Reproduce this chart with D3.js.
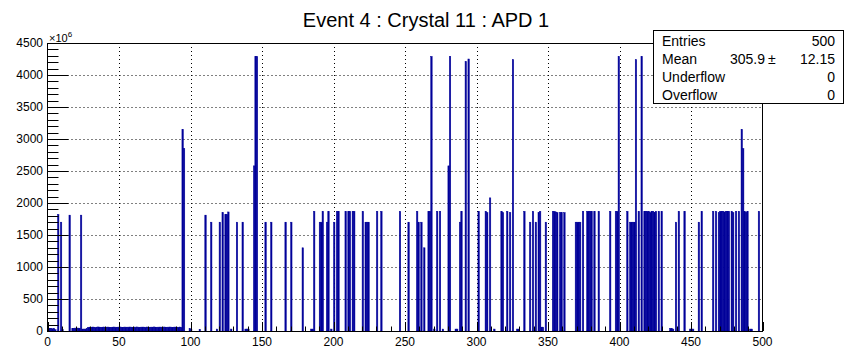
<!DOCTYPE html>
<html>
<head>
<meta charset="utf-8">
<script src="https://cdn.jsdelivr.net/npm/d3@7"></script>
<style>
  body { margin: 0; background: #fff; }
  text { font-family: "Liberation Sans", Arial, sans-serif; white-space: pre; }
</style>
</head>
<body>
<div id="chart"></div>
<script>
// histogram data, 500 bins from 0 to 500 (values in units of 1e6)
var nBins = 500;
var bandStart = 28;
var bandValues = [55,60,58,62,60,57,60,63,60,58, 60,62,59,60,61,58,56,60,62,60,
  58,60,64,60,57,60,61,59,60,62, 60,58,60,60,63,60,57,60,61,60,
  59,62,60,58,60,60,63,60,56,60, 61,60,59,62,60,58,60,62,60,57,
  60,61,60,58,62,55];

var spikeBins = [1,2,3,4,5,7,9,10,15,17,18,19,20,21,22,23,24,25,26,27,
  94,95,99,100,106,110,114,118,120,122,124,125,126,128,132,136,138,139,140,144,145,146,152,156,
  166,170,178,184,185,186,190,191,192,195,196,198,200,202,203,208,210,211,213,214,220,222,223,224,230,233,246,
  252,258,259,261,263,266,267,268,270,272,274,276,280,281,285,286,288,289,292,294,301,306,307,309,312,317,318,321,323,325,328,329,333,
  337,339,341,343,344,345,346,348,353,354,355,356,358,359,361,369,370,371,372,374,377,378,379,380,382,385,393,397,398,399,
  405,407,408,409,410,411,413,415,417,418,419,420,421,422,423,424,425,427,429,435,436,437,439,441,445,449,450,451,455,457,
  465,467,469,470,471,472,473,474,475,476,478,479,481,483,485,486,487,488,489,491,492,497];
var spikeValues = [40,40,35,40,20,1820,1700,20,1810,40,40,45,45,45,40,1810,30,30,30,40,
  3150,2850,40,20,25,1810,1700,30,1700,1850,1820,1820,1860,30,1700,1700,30,30,30,2580,4290,4290,1700,1700,
  1700,1700,1300,30,30,1870,1700,1700,1870,1700,1870,30,1700,1870,1870,1870,1870,1870,1870,1870,1870,1700,1700,1700,1870,1870,1870,
  1700,1870,1700,1700,1300,1870,1870,4290,30,1870,1870,30,2580,4290,30,30,1700,1870,4210,4250,1870,1870,1850,2080,30,1870,1850,1870,1850,4240,30,30,1870,
  1700,1870,1700,1850,1870,60,60,1700,1870,1870,1860,1850,1850,1850,1850,1700,1700,1700,1700,1870,1870,1870,1870,1870,1870,1870,1870,1870,1870,4290,
  1870,1700,1700,1700,1700,4240,1870,4290,1870,1870,1870,1870,1850,1870,1870,1850,1870,1870,1870,40,40,30,1700,1870,1870,30,30,30,1700,1870,
  1870,1870,1850,1870,1870,1870,1860,1870,1870,1870,1870,1850,1870,1870,3150,2850,1870,1850,1870,30,30,1870];

var xTickValues = [0,50,100,150,200,250,300,350,400,450,500];
var yTickValues = [0,500,1000,1500,2000,2500,3000,3500,4000,4500];
var statNames = ["Entries", "Mean", "Underflow", "Overflow"];
var statValues = ["500", "12.15", "0", "0"];
var meanValue = "305.9";
var titleText = "Event 4 : Crystal 11 : APD 1";

var binValues = d3.range(nBins).map(function() { return 0; });
bandValues.forEach(function(v, i) { binValues[bandStart + i] = v; });
spikeBins.forEach(function(b, i) { binValues[b] = spikeValues[i]; });

var width = 852, height = 354;
var padL = 47.5, padR = 762.5, padT = 43, padB = 331;
var histColor = "#000099";

var svg = d3.select("#chart").append("svg")
  .attr("width", width).attr("height", height);

var x = d3.scaleLinear().domain([0, 500]).range([padL, padR]);
var y = d3.scaleLinear().domain([0, 4500]).range([padB, padT]);

// grid
var grid = svg.append("g").attr("stroke", "#000").attr("stroke-width", 1)
  .attr("stroke-dasharray", "1,3");
grid.selectAll(".gx").data(xTickValues.slice(1, -1)).enter().append("line")
  .attr("x1", function(d) { return Math.round(x(d)) + 0.5; })
  .attr("x2", function(d) { return Math.round(x(d)) + 0.5; })
  .attr("y1", padT).attr("y2", padB);
grid.selectAll(".gy").data(yTickValues.slice(1, -1)).enter().append("line")
  .attr("y1", function(d) { return Math.round(y(d)) + 0.5; })
  .attr("y2", function(d) { return Math.round(y(d)) + 0.5; })
  .attr("x1", padL).attr("x2", padR);

// histogram bars
svg.append("g").selectAll("rect")
  .data(binValues.map(function(v, i) { return { i: i, v: v }; }).filter(function(d) { return d.v > 0; }))
  .enter().append("rect")
  .attr("x", function(d) { return x(d.i); })
  .attr("width", function(d) { return x(d.i + 1) - x(d.i); })
  .attr("y", function(d) { return y(d.v); })
  .attr("height", function(d) { return y(0) - y(d.v); })
  .attr("fill", histColor)
  .attr("stroke", histColor).attr("stroke-width", 0.5);

// frame
svg.append("rect").attr("x", padL).attr("y", padT + 0.5)
  .attr("width", padR - padL).attr("height", padB - padT)
  .attr("fill", "none").attr("stroke", "#000");

// ticks (drawn inside the frame, ROOT style)
var tk = svg.append("g").attr("stroke", "#000").attr("stroke-width", 1);
tk.selectAll(".yt").data(y.ticks(45)).enter().append("line")
  .attr("x1", padL).attr("x2", function(d) { return padL + (d % 500 === 0 ? 21 : 11); })
  .attr("y1", function(d) { return Math.round(y(d)) + 0.5; })
  .attr("y2", function(d) { return Math.round(y(d)) + 0.5; });
tk.selectAll(".xt").data(x.ticks(50)).enter().append("line")
  .attr("x1", function(d) { return Math.round(x(d)) + 0.5; })
  .attr("x2", function(d) { return Math.round(x(d)) + 0.5; })
  .attr("y1", padB).attr("y2", function(d) { return padB - (d % 50 === 0 ? 9 : 4.5); });

// tick labels
svg.append("g").selectAll("text").data(yTickValues).enter().append("text")
  .attr("x", 43).attr("y", function(d) { return y(d) + 4; })
  .attr("text-anchor", "end").attr("font-size", 12).text(function(d) { return d; });
svg.append("g").selectAll("text").data(xTickValues).enter().append("text")
  .attr("x", function(d) { return x(d); }).attr("y", 346)
  .attr("text-anchor", "middle").attr("font-size", 12).text(function(d) { return d; });

// exponent
var ex = svg.append("text").attr("x", 49).attr("y", 42).attr("font-size", 11);
ex.append("tspan").text("\u00d710");
ex.append("tspan").attr("dy", -5).attr("font-size", 8).text("6");

// title
svg.append("text").attr("x", 426).attr("y", 27).attr("text-anchor", "middle")
  .attr("font-size", 20).text(titleText);

// stats box
var sb = svg.append("g");
sb.append("rect").attr("x", 653.5).attr("y", 30.5).attr("width", 190).attr("height", 73)
  .attr("fill", "#fff").attr("stroke", "#000");
statNames.forEach(function(n, i) {
  sb.append("text").attr("x", 662).attr("y", 45.5 + i * 18).attr("font-size", 14).text(n);
  sb.append("text").attr("x", 835).attr("y", 45.5 + i * 18).attr("font-size", 14)
    .attr("text-anchor", "end").text(statValues[i]);
});
sb.append("text").attr("x", 765).attr("y", 63.5).attr("font-size", 14)
  .attr("text-anchor", "end").text(meanValue);
sb.append("text").attr("x", 768).attr("y", 63.5).attr("font-size", 14).text("\u00b1");
</script>
</body>
</html>
